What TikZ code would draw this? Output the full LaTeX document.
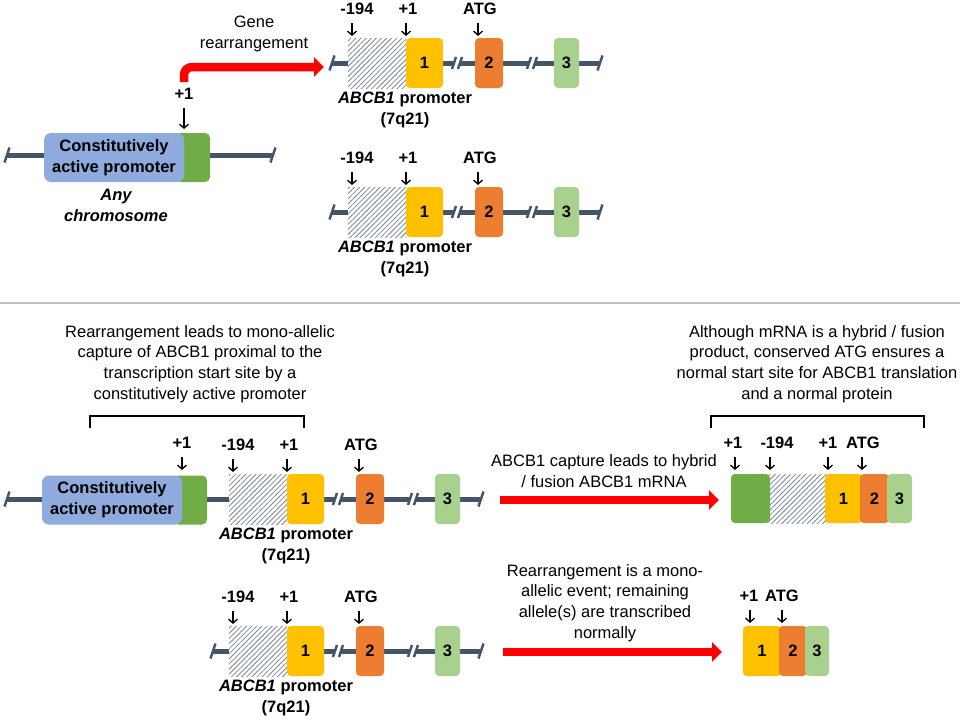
\documentclass[tikz,border=0pt]{standalone}
\usepackage{fontspec}
\setmainfont{Liberation Sans}
\usetikzlibrary{arrows.meta,patterns.meta,positioning}
\definecolor{slate}{HTML}{44546A}
\definecolor{promblue}{HTML}{8FAADC}
\definecolor{promgreen}{HTML}{70AD47}
\definecolor{exgold}{HTML}{FFC000}
\definecolor{exorange}{HTML}{ED7D31}
\definecolor{exlime}{HTML}{A9D18E}
\definecolor{rulegrey}{HTML}{BFBFBF}
\tikzset{
  every node/.style = {font=\fontsize{16.5}{20.6}\selectfont},
  chrom/.style    = {draw=slate, line width=5pt},
  cut/.style      = {draw=slate, line width=2.4pt},
  exon/.style     = {rectangle, rounded corners=4pt, minimum height=50pt,
                     inner sep=0pt, font=\fontsize{16.5}{20}\selectfont\bfseries},
  hatchbox/.style = {rectangle, minimum height=50pt, inner sep=0pt,
                     preaction={fill=white},
                     pattern={Lines[angle=45,distance=3.6pt,line width=0.8pt]},
                     pattern color=slate!70},
  promoter/.style = {rectangle, rounded corners=7pt, minimum height=49pt,
                     inner sep=0pt, fill=promblue, align=center,
                     font=\fontsize{16.5}{21}\selectfont\bfseries},
  site/.style     = {inner sep=0pt, text height=11.5pt, text depth=0pt,
                     font=\fontsize{16.5}{20}\selectfont\bfseries},
  downarr/.style  = {-{Straight Barb[length=4pt,width=9pt]}, line width=1.3pt},
  redarrow/.style = {draw=red, line width=8.5pt,
                     -{Triangle[length=10pt,width=19pt]}},
  remark/.style   = {align=center},
  bracket/.style  = {line width=1.8pt}
}

\begin{document}
\begin{tikzpicture}[x=1pt,y=1pt]
  \useasboundingbox (0,0) rectangle (960,-720);

  % ABCB1 alleles
  \foreach \r/\dx/\yc/\lx in {A/0/63/332, B/0/212/332, C/-119/499/126, D/-119/651/332}{
    \begin{scope}[shift={(\dx,-\yc)}]
      \draw[chrom] (\lx,0) -- (454,0) (460,0) -- (529,0) (535,0) -- (600,0);
      \foreach \t in {\lx,600} \draw[cut] (\t-2.5,-7.5) -- (\t+2.5,7.5);
      \foreach \t in {454,460,529,535} \draw[cut] (\t-2,-6) -- (\t+2,6);
      \node[hatchbox, minimum width=58pt] (prox\r) at (377,0) {};
      \node[exon, fill=exgold, minimum width=37pt] (ex1\r) at (424.5,0) {1};
      \node[exon, fill=exorange, minimum width=28pt] (ex2\r) at (489,0) {2};
      \node[exon, fill=exlime, minimum width=25pt] (ex3\r) at (566.5,0) {3};
      \node[site] (up\r) at (357,54) {-194};
      \node[site] (tss\r) at (408,54) {+1};
      \node[site] (atg\r) at (480,54) {ATG};
      \draw[downarr] ([xshift=-5pt,yshift=-8pt]up\r.south) -- ++(0,-13);
      \draw[downarr] ([xshift=-2pt,yshift=-8pt]tss\r.south) -- ++(0,-13);
      \draw[downarr] ([xshift=-2pt,yshift=-8pt]atg\r.south) -- ++(0,-13);
      \node[remark, font=\fontsize{16.5}{20.6}\selectfont\bfseries]
        (name\r) at (405,-47) {\textit{ABCB1} promoter\\(7q21)};
    \end{scope}
  }

  % promoter on any chromosome
  \draw[chrom] (7,-155) -- (273,-155);
  \draw[cut] (4.5,-162.5) -- (9.5,-147.5);
  \draw[cut] (270.5,-162.5) -- (275.5,-147.5);
  \node[promoter, fill=promgreen, minimum width=35pt, rounded corners=5pt]
    (tsP) at (192.5,-157.5) {};
  \node[promoter, minimum width=140pt] (cpP) at (114,-157.5)
    {Constitutively\\active promoter};
  \node[site] (plusP) at (184,-94) {+1};
  \draw[downarr] ([yshift=-8pt]plusP.south) -- ++(0,-21);
  \node[remark, font=\fontsize{16.5}{20.6}\selectfont\bfseries\itshape]
    (anyP) at (116,-205.5) {Any\\chromosome};
  \node[remark] (gene) at (254,-34) {Gene\\rearrangement};
  \coordinate (rearr) at (324,-67);
  \draw[redarrow, rounded corners=8pt] ([yshift=6pt]plusP.north) |- (rearr);

  \draw[rulegrey, line width=1.5pt] (0,-303) -- (960,-303);

  % captured allele
  \node[promoter, fill=promgreen, minimum width=34pt, rounded corners=5pt]
    (tsC) at (190,-500) {};
  \node[promoter, minimum width=140pt] (cpC) at (112,-500)
    {Constitutively\\active promoter};
  \node[site] (plusC) at (182,-443) {+1};
  \draw[downarr] ([yshift=-8pt]plusC.south) -- ++(0,-13);

  \node[remark] (noteL) at (200,-364) {Rearrangement leads to mono-allelic\\capture of ABCB1 proximal to the\\transcription start site by a\\constitutively active promoter};
  \draw[bracket] (90,-428) -- (90,-416) -- (304,-416) -- (304,-428);

  \node[remark] (noteR) at (817,-364) {Although mRNA is a hybrid / fusion\\product, conserved ATG ensures a\\normal start site for ABCB1 translation\\and a normal protein};
  \draw[bracket] (711,-428) -- (711,-416) -- (924,-416) -- (924,-428);

  % fusion mRNA
  \node[remark] (capnote) at (604,-471) {ABCB1 capture leads to hybrid\\/ fusion ABCB1 mRNA};
  \coordinate (capS) at (500,-500);
  \coordinate (capE) at (719,-500);
  \draw[redarrow] (capS) -- (capE);
  \node[hatchbox, minimum width=60pt, minimum height=49pt] (mprox) at (797.5,-498.5) {};
  \node[exon, fill=promgreen, minimum width=39pt, minimum height=49pt] (mts) at (750.5,-498.5) {};
  \node[exon, fill=exgold, minimum width=37pt, minimum height=49pt] (mex1) at (843.5,-498.5) {1};
  \node[exon, fill=exorange, minimum width=29pt, minimum height=49pt] (mex2) at (874.5,-498.5) {2};
  \node[exon, fill=exlime, minimum width=25pt, minimum height=49pt] (mex3) at (899.5,-498.5) {3};
  \node[site] (mplus) at (733,-443) {+1};
  \node[site] (mup) at (777,-443) {-194};
  \node[site] (mtss) at (828,-443) {+1};
  \node[site] (matg) at (863,-443) {ATG};
  \draw[downarr] ([xshift=2pt,yshift=-8pt]mplus.south) -- ++(0,-13);
  \draw[downarr] ([xshift=-7pt,yshift=-8pt]mup.south) -- ++(0,-13);
  \draw[downarr] ([yshift=-8pt]mtss.south) -- ++(0,-13);
  \draw[downarr] ([xshift=-1pt,yshift=-8pt]matg.south) -- ++(0,-13);

  % normal mRNA
  \node[remark] (monote) at (605,-603) {Rearrangement is a mono-\\allelic event; remaining\\allele(s) are transcribed\\normally};
  \coordinate (normS) at (503,-652);
  \coordinate (normE) at (722,-652);
  \draw[redarrow] (normS) -- (normE);
  \node[exon, fill=exgold, minimum width=38pt] (nex1) at (762,-651) {1};
  \node[exon, fill=exorange, minimum width=28pt] (nex2) at (793,-651) {2};
  \node[exon, fill=exlime, minimum width=24pt] (nex3) at (817,-651) {3};
  \node[site] (nplus) at (749,-596) {+1};
  \node[site] (natg) at (782,-596) {ATG};
  \draw[downarr] ([xshift=1pt,yshift=-8pt]nplus.south) -- ++(0,-13);
  \draw[downarr] ([yshift=-8pt]natg.south) -- ++(0,-13);
\end{tikzpicture}
\end{document}
